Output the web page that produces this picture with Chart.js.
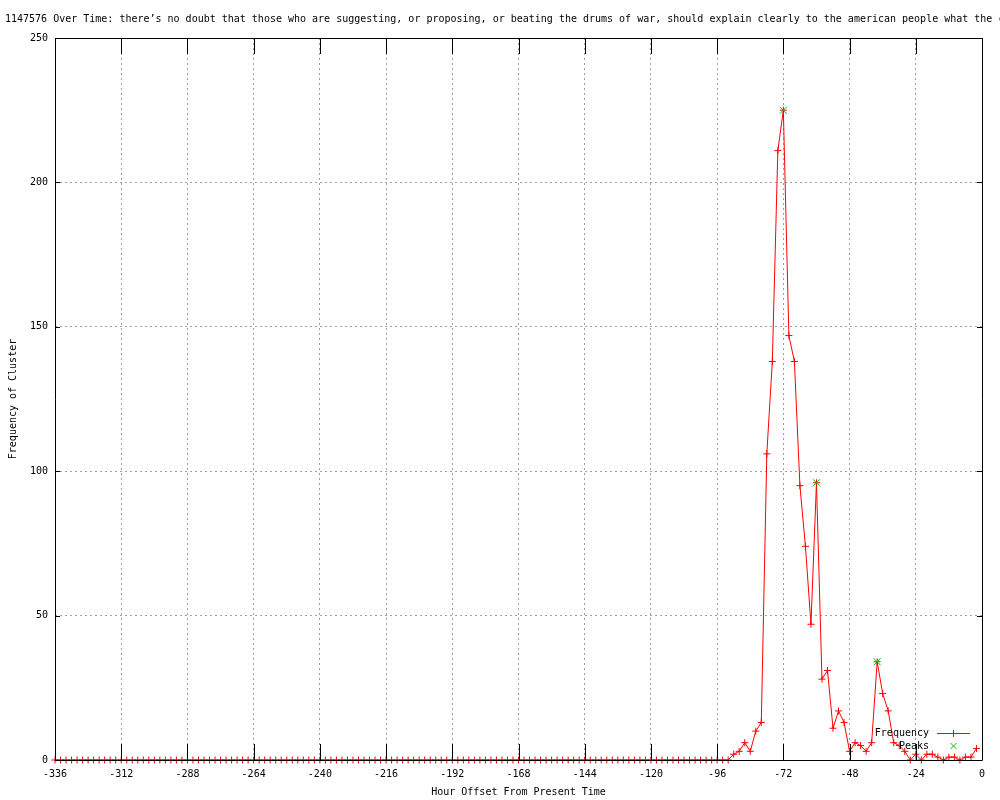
<!DOCTYPE html>
<html>
<head>
<meta charset="utf-8">
<script src="https://cdn.jsdelivr.net/npm/chart.js@4.4.0/dist/chart.umd.min.js"></script>
<style>
  html, body { margin: 0; padding: 0; background: #fff; }
  #wrap { width: 1000px; height: 800px; }
</style>
</head>
<body>
<div id="wrap"><canvas id="chart" width="1000" height="800"></canvas></div>
<script>
// chart text
const titleText = "1147576 Over Time: there’s no doubt that those who are suggesting, or proposing, or beating the drums of war, should explain clearly to the american people what the c";
const xTitle = "Hour Offset From Present Time";
const yTitle = "Frequency of Cluster";

// hour offsets (x) - one point every 2 hours
const hours = [
  -336, -334, -332, -330, -328, -326, -324, -322, -320, -318, -316, -314,
  -312, -310, -308, -306, -304, -302, -300, -298, -296, -294, -292, -290,
  -288, -286, -284, -282, -280, -278, -276, -274, -272, -270, -268, -266,
  -264, -262, -260, -258, -256, -254, -252, -250, -248, -246, -244, -242,
  -240, -238, -236, -234, -232, -230, -228, -226, -224, -222, -220, -218,
  -216, -214, -212, -210, -208, -206, -204, -202, -200, -198, -196, -194,
  -192, -190, -188, -186, -184, -182, -180, -178, -176, -174, -172, -170,
  -168, -166, -164, -162, -160, -158, -156, -154, -152, -150, -148, -146,
  -144, -142, -140, -138, -136, -134, -132, -130, -128, -126, -124, -122,
  -120, -118, -116, -114, -112, -110, -108, -106, -104, -102, -100, -98,
  -96, -94, -92, -90, -88, -86, -84, -82, -80, -78, -76, -74,
  -72, -70, -68, -66, -64, -62, -60, -58, -56, -54, -52, -50,
  -48, -46, -44, -42, -40, -38, -36, -34, -32, -30, -28, -26,
  -24, -22, -20, -18, -16, -14, -12, -10, -8, -6, -4, -2
];

// frequency of cluster (y)
const frequency = [
  0, 0, 0, 0, 0, 0, 0, 0, 0, 0, 0, 0,
  0, 0, 0, 0, 0, 0, 0, 0, 0, 0, 0, 0,
  0, 0, 0, 0, 0, 0, 0, 0, 0, 0, 0, 0,
  0, 0, 0, 0, 0, 0, 0, 0, 0, 0, 0, 0,
  0, 0, 0, 0, 0, 0, 0, 0, 0, 0, 0, 0,
  0, 0, 0, 0, 0, 0, 0, 0, 0, 0, 0, 0,
  0, 0, 0, 0, 0, 0, 0, 0, 0, 0, 0, 0,
  0, 0, 0, 0, 0, 0, 0, 0, 0, 0, 0, 0,
  0, 0, 0, 0, 0, 0, 0, 0, 0, 0, 0, 0,
  0, 0, 0, 0, 0, 0, 0, 0, 0, 0, 0, 0,
  0, 0, 0, 2, 3, 6, 3, 10, 13, 106, 138, 211,
  225, 147, 138, 95, 74, 47, 96, 28, 31, 11, 17, 13,
  3, 6, 5, 3, 6, 34, 23, 17, 6, 5, 3, 0,
  2, 0, 2, 2, 1, 0, 1, 1, 0, 1, 1, 4
];

// peaks
const peakHours = [-72, -60, -38];
const peakValues = [225, 96, 34];

// tick values
const xTickValues = [-336, -312, -288, -264, -240, -216, -192, -168, -144, -120, -96, -72, -48, -24, 0];
const yTickValues = [0, 50, 100, 150, 200, 250];

const mono = "'DejaVu Sans Mono', 'Liberation Mono', monospace";
const smallFont = { family: mono, size: 10, lineHeight: 1.2 };
const gridColor = "#a0a0a0";
const red = "#ff0000";
const green = "#00c000";

// border, inside ticks, key and title like gnuplot
const gnuplotFrame = {
  id: "gnuplotFrame",
  afterDatasetsDraw(chart) {
    const ctx = chart.ctx;
    const a = chart.chartArea;
    const xs = chart.scales.x;
    const ys = chart.scales.y;
    ctx.save();
    ctx.strokeStyle = "#000";
    ctx.lineWidth = 1;
    ctx.beginPath();
    ctx.rect(Math.round(a.left) + 0.5, Math.round(a.top) + 0.5,
             Math.round(a.right - a.left), Math.round(a.bottom - a.top));
    ctx.stroke();

    // x ticks, inside, mirrored
    ctx.beginPath();
    xTickValues.forEach((v) => {
      const px = Math.round(xs.getPixelForValue(v)) + 0.5;
      ctx.moveTo(px, a.bottom);
      ctx.lineTo(px, a.bottom - 16);
      ctx.moveTo(px, a.top);
      ctx.lineTo(px, a.top + 16);
    });
    // y ticks
    yTickValues.forEach((v) => {
      const py = Math.round(ys.getPixelForValue(v)) + 0.5;
      ctx.moveTo(a.left, py);
      ctx.lineTo(a.left + 5, py);
      ctx.moveTo(a.right, py);
      ctx.lineTo(a.right - 5, py);
    });
    ctx.stroke();

    // key
    ctx.font = "10px " + mono;
    ctx.fillStyle = "#000";
    ctx.textAlign = "right";
    ctx.textBaseline = "middle";
    ctx.fillText(chart.data.datasets[1].label, 929, 733);
    ctx.fillText(chart.data.datasets[0].label, 929, 746);

    ctx.strokeStyle = red;
    ctx.beginPath();
    ctx.moveTo(937, 733.5);
    ctx.lineTo(970, 733.5);
    ctx.moveTo(953.5, 730);
    ctx.lineTo(953.5, 737);
    ctx.stroke();

    ctx.strokeStyle = green;
    ctx.beginPath();
    ctx.moveTo(950.5, 743);
    ctx.lineTo(956.5, 749);
    ctx.moveTo(956.5, 743);
    ctx.lineTo(950.5, 749);
    ctx.stroke();
    ctx.restore();
  },
  afterDraw(chart) {
    const ctx = chart.ctx;
    ctx.save();
    ctx.font = "10px " + mono;
    ctx.fillStyle = "#000";
    ctx.textAlign = "left";
    ctx.textBaseline = "alphabetic";
    ctx.fillText(titleText, 5, 22);
    ctx.restore();
  }
};

const config = {
  type: "line",
  data: {
    datasets: [
      {
        label: "Peaks",
        data: peakHours.map((h, i) => ({ x: h, y: peakValues[i] })),
        showLine: false,
        borderColor: green,
        backgroundColor: green,
        pointStyle: "crossRot",
        pointRadius: 5,
        pointBorderWidth: 1,
        clip: false,
        order: 0
      },
      {
        label: "Frequency",
        data: hours.map((h, i) => ({ x: h, y: frequency[i] })),
        borderColor: red,
        backgroundColor: red,
        borderWidth: 1,
        pointStyle: "cross",
        pointRadius: 3.5,
        pointBorderWidth: 1,
        tension: 0,
        clip: false,
        order: 1
      }
    ]
  },
  options: {
    responsive: false,
    animation: false,
    events: [],
    layout: { padding: { top: 38, right: 18, left: 0, bottom: 0 } },
    plugins: {
      legend: { display: false },
      tooltip: { enabled: false },
      title: { display: false }
    },
    scales: {
      x: {
        type: "linear",
        min: -336,
        max: 0,
        afterBuildTicks: (s) => { s.ticks = xTickValues.map((v) => ({ value: v })); },
        afterFit: (s) => { s.height = 40; },
        grid: { color: gridColor, lineWidth: 1, drawTicks: false },
        border: { display: false, dash: [2, 3] },
        ticks: {
          color: "#000",
          font: smallFont,
          padding: 8,
          maxRotation: 0,
          autoSkip: false,
          callback: (v) => String(v)
        },
        title: {
          display: true,
          text: xTitle,
          color: "#000",
          font: smallFont,
          padding: { top: 0, bottom: 2 }
        }
      },
      y: {
        min: 0,
        max: 250,
        afterBuildTicks: (s) => { s.ticks = yTickValues.map((v) => ({ value: v })); },
        afterFit: (s) => { s.width = 55; },
        grid: { color: gridColor, lineWidth: 1, drawTicks: false },
        border: { display: false, dash: [2, 3] },
        ticks: {
          color: "#000",
          font: smallFont,
          padding: 7,
          callback: (v) => String(v)
        },
        title: {
          display: true,
          text: yTitle,
          color: "#000",
          font: smallFont,
          padding: { top: 7, bottom: 0 }
        }
      }
    }
  },
  plugins: [gnuplotFrame]
};

const myChart = new Chart(document.getElementById("chart"), config);
</script>
</body>
</html>
